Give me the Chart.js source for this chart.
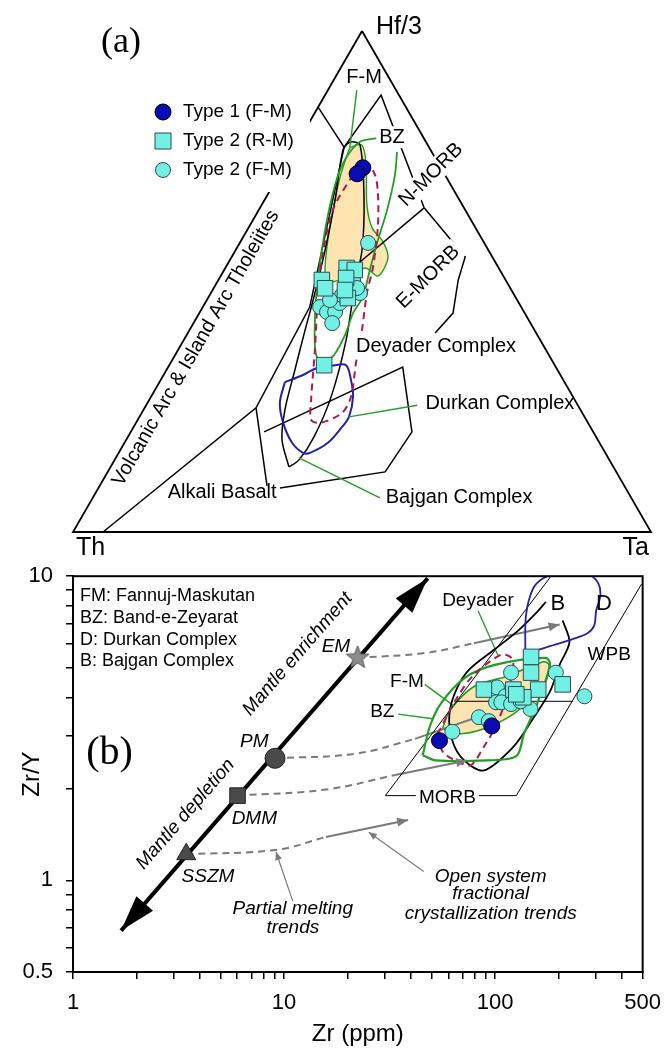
<!DOCTYPE html>
<html>
<head>
<meta charset="utf-8">
<script src="https://cdn.jsdelivr.net/npm/chart.js@4.4.1/dist/chart.umd.min.js"></script>
<style>
  body { margin: 0; background: #fff; }
  #wrap { position: relative; width: 672px; height: 1049px; }
  canvas { position: absolute; left: 0; }
  #chartA { top: 0; }
  #chartB { top: 550px; }
</style>
</head>
<body>
<div id="wrap">
  <canvas id="chartA" width="672" height="575"></canvas>
  <canvas id="chartB" width="672" height="499"></canvas>
</div>
<script>
// (a) ternary values in percent: [Hf/3, Th, Ta]
const triangleA = [[100, 0, 0], [0, 100, 0], [0, 0, 100], [100, 0, 0]];
const type1A = [[72.7, 13.5, 13.8], [71.5, 15.1, 13.4]];
const type2RMA = [[50.3, 31.8, 17.9], [48.7, 32.1, 19.3], [52.7, 26.3, 21.0], [52.3, 25.1, 22.6],
  [50.7, 27.4, 21.9], [46.7, 29.1, 24.2], [48.3, 28.8, 22.9], [33.3, 39.9, 26.8]];
const type2FMA = [[57.7, 20.1, 22.2], [50.3, 26.4, 23.3], [47.7, 26.5, 25.8], [44.9, 34.8, 20.3],
  [43.9, 34.1, 22.0], [43.9, 32.7, 23.4], [41.7, 34.3, 24.0], [45.7, 31.0, 23.3], [48.7, 26.5, 24.8],
  [47.3, 29.8, 22.9], [46.3, 32.4, 21.3]];

const woodArcLine = [[0, 94.8, 5.2], [24.8, 56.0, 19.3], [44.9, 36.6, 18.5], [76.8, 14.7, 8.5]];
const woodNmorbLine = [[84.8, 15.2, 0], [76.8, 14.7, 8.5], [87.2, 3.1, 9.7], [64.7, 6.9, 28.4]];
const woodEmorbLine = [[64.7, 6.9, 28.4], [54.9, 4.7, 40.4], [50.3, 8.2, 41.5], [43.7, 12.4, 43.9], [39.7, 17.5, 42.8]];
const woodEmorbLink = [[64.7, 6.9, 28.4], [53.9, 23.4, 22.7]];
const woodAlkaliLeft = [[24.8, 56.0, 19.3], [9.2, 61.9, 29.0]];
const woodAlkaliLine = [[20.0, 57.0, 23.1], [32.9, 26.5, 40.6], [20.0, 31.4, 48.7], [12.0, 40.0, 48.0], [8.8, 59.8, 31.4]];

const fmFieldA = [[76.8, 13.7, 9.5], [70.9, 18.4, 10.8], [60.9, 25.1, 14.0], [52.9, 30.0, 17.2], [49.9, 31.1, 19.0],
  [50.7, 27.6, 21.7], [52.7, 23.1, 24.2], [51.1, 21.7, 27.2], [54.7, 18.2, 27.2], [57.9, 17.4, 24.7],
  [60.7, 17.9, 21.4], [65.3, 16.5, 18.2], [73.3, 12.7, 14.1], [77.2, 11.4, 11.4], [76.8, 13.7, 9.5]];
const bzFieldA = [[75.8, 6.0, 18.1], [71.3, 8.7, 20.1], [64.3, 13.5, 22.2], [57.7, 18.6, 23.8], [52.3, 22.5, 25.2],
  [46.9, 26.4, 26.7], [43.7, 29.7, 26.6], [39.3, 33.3, 27.4], [34.7, 38.0, 27.3], [34.9, 40.3, 24.7],
  [42.3, 37.0, 20.7], [50.3, 32.5, 17.2], [60.3, 26.3, 13.5], [69.3, 20.0, 10.7], [74.3, 15.8, 9.9],
  [77.8, 11.4, 10.7], [78.6, 7.9, 13.5]];
const deyaderFieldA = [[73.3, 13.7, 13.0], [71.3, 15.9, 12.8], [64.3, 22.9, 12.8], [54.3, 29.8, 15.9],
  [46.9, 34.2, 18.9], [36.3, 40.0, 23.7], [26.3, 45.6, 28.0], [22.4, 47.6, 30.0], [21.8, 46.4, 31.9],
  [23.8, 41.6, 34.7], [27.0, 38.4, 34.6], [33.7, 34.2, 32.1], [40.3, 29.8, 29.8], [47.7, 25.3, 27.0],
  [52.9, 21.7, 25.5], [60.9, 16.8, 22.3], [67.7, 13.4, 18.9], [71.3, 12.1, 16.6], [73.3, 12.3, 14.4],
  [73.3, 13.7, 13.0]];
const durkanFieldA = [[29.9, 48.4, 21.7], [31.3, 44.5, 24.1], [32.7, 41.4, 25.8], [33.3, 38.0, 28.7],
  [33.3, 36.1, 30.6], [30.3, 36.7, 32.9], [27.0, 38.1, 35.0], [23.0, 40.8, 36.3], [21.0, 43.0, 36.1],
  [17.8, 47.0, 35.2], [15.8, 51.1, 33.1], [15.8, 52.3, 31.9], [17.8, 53.2, 29.0], [21.8, 52.8, 25.5],
  [25.7, 51.3, 22.9], [29.9, 48.4, 21.7]];
const bajganFieldA = [[13.0, 56.2, 30.9], [18.4, 54.7, 27.0], [24.4, 51.2, 24.5], [32.3, 45.4, 22.2],
  [40.3, 39.7, 20.0], [46.3, 35.3, 18.4], [56.3, 28.3, 15.5], [66.3, 21.5, 12.2], [76.2, 15.2, 8.6],
  [77.8, 13.2, 9.0], [77.2, 11.7, 11.0], [66.3, 16.5, 17.2], [56.3, 21.9, 21.9], [49.3, 26.6, 24.1],
  [38.3, 33.6, 28.1], [27.0, 41.9, 31.2], [19.0, 48.8, 32.2], [14.4, 53.7, 31.9], [13.0, 56.2, 30.9]];
const fmLeaderA = [[88.2, 6.8, 5.0], [76.8, 13.7, 9.5]];
const durkanLeaderA = [[25.3, 27.8, 46.9], [23.0, 40.8, 36.3]];
const bajganLeaderA = [[6.8, 43.5, 49.7], [14.8, 53.5, 31.7]];

const labelsA = [
  {t: 'F-M', p: [90.6, 4.3, 5.0]},
  {t: 'BZ', p: [78.8, 5.4, 15.8], bg: true},
  {t: 'N-MORB', p: [71.3, 2.4, 26.3], rot: -45, bg: true},
  {t: 'E-MORB', p: [50.9, 13.1, 36.0], rot: -45, bg: true},
  {t: 'Deyader Complex', p: [36.9, 18.7, 44.3], bg: true},
  {t: 'Durkan Complex', p: [25.7, 13.3, 61.0]},
  {t: 'Bajgan Complex', p: [6.8, 29.8, 63.4]},
  {t: 'Alkali Basalt', p: [7.8, 70.3, 21.9]},
  {t: 'Volcanic Arc & Island Arc Tholeiites', p: [36.7, 60.4, 2.9], rot: 'edge'}
];

// (b) Zr (ppm) and Zr/Y
const type1B = [[54.5, 2.88], [96.4, 3.22]];
const type2RMB = [[148, 5.43], [148, 4.82], [88.5, 4.24], [122, 4.24], [160, 4.24], [209, 4.41], [136, 4.00], [126, 4.09]];
const type2FMB = [[119, 4.82], [194, 4.82], [102, 4.31], [112, 4.03], [101, 3.85], [107, 3.85], [119, 3.80],
  [147, 3.66], [83.8, 3.44], [93.3, 3.34], [62.7, 3.08], [265, 4.03], [132, 3.88]];

const mantleNames = ['EM', 'PM', 'DMM', 'SSZM'];
const mantleZr = [22.3, 9.06, 6.02, 3.44];
const mantleZrY = [5.39, 2.52, 1.90, 1.22];
const mantleArrow = [[1.69, 0.684], [47.9, 9.84]];
const meltTrends = [
  [[22.3, 5.39], [46.4, 5.59], [79.4, 6.02]],
  [[9.06, 2.52], [21.9, 2.61], [41.7, 2.92]],
  [[6.02, 1.90], [15.8, 1.99], [33.6, 2.22]],
  [[3.44, 1.22], [9.16, 1.26], [15.8, 1.39]]];
const fcTrends = [
  [[79.4, 6.02], [202, 6.94]],
  [[41.7, 2.92], [82.1, 3.44]],
  [[33.6, 2.22], [73.7, 2.48]],
  [[15.8, 1.39], [38.7, 1.58]]];
const fcHeads = [true, false, true, true];
const meltPointer = [[11.0, 0.855], [9.16, 1.24]];
const fcPointer = [[45.9, 1.07], [25.2, 1.44]];

const morbBase = [[30.2, 1.90], [126, 1.90]];
const morbLeft = [[30.2, 1.90], [184, 10.0]];
const morbRight = [[126, 1.90], [494, 9.42]];
const morbTop = [[65.5, 3.88], [233, 3.88]];

const fmFieldB = [[56.3, 3.15], [60.7, 3.60], [79.4, 4.34], [113, 4.68], [169, 5.23], [180, 5.11], [174, 4.51],
  [151, 4.03], [122, 3.52], [88.5, 3.15], [66.2, 3.03], [56.3, 3.15]];
const bzFieldB = [[45.4, 2.58], [49.0, 3.20], [55.1, 3.80], [72.1, 4.64], [99.6, 5.11], [174, 5.39], [182, 5.11],
  [158, 3.80], [137, 3.03], [126, 2.56], [91.4, 2.48], [52.2, 2.48], [45.4, 2.58]];
const deyaderFieldB = [[53.4, 3.03], [66.2, 4.00], [79.4, 4.75], [106, 5.51], [118, 5.43], [122, 5.11], [113, 4.00],
  [102, 3.27], [88.5, 2.75], [76.9, 2.39], [69.1, 2.43], [57.5, 2.61], [53.4, 2.88], [53.4, 3.03]];
const durkanFieldB = [[139, 5.59], [140, 7.42], [151, 9.08], [169, 9.85], [194, 10.1], [279, 10.1], [308, 9.49],
  [315, 8.61], [301, 7.70], [295, 6.89], [274, 6.49], [233, 6.21], [188, 5.93], [160, 5.72], [147, 5.59]];
const bajganFieldB = [[174, 8.24], [160, 7.70], [129, 6.64], [98.5, 5.72], [75.3, 4.93], [65.5, 4.24], [60.7, 3.52],
  [62.7, 2.88], [71.3, 2.48], [88.5, 2.30], [122, 2.75], [151, 3.40], [182, 4.18], [202, 5.11], [225, 6.07], [209, 7.15]];
const deyaderLeaderB = [[83.0, 7.70], [103, 5.51]];
const fmLeaderB = [[46.4, 4.41], [64.1, 3.74]];
const bzLeaderB = [[34.7, 3.52], [50.6, 3.40]];

const xTicks = [1, 2, 3, 4, 5, 6, 7, 8, 9, 10, 20, 30, 40, 50, 60, 70, 80, 90, 100, 200, 300, 400, 500];
const xTickLabels = [1, 10, 100, 500];
const yTicks = [0.5, 0.6, 0.7, 0.8, 0.9, 1, 2, 3, 4, 5, 6, 7, 8, 9, 10];
const yTickLabels = [0.5, 1, 10];

const legendBText = ['FM: Fannuj-Maskutan', 'BZ: Band-e-Zeyarat', 'D: Durkan Complex', 'B: Bajgan Complex'];
const labelsB = [
  {t: '(b)', x: 1.49, y: 2.61, size: 40, serif: true},
  {t: 'EM', x: 17.6, y: 5.85, it: true},
  {t: 'PM', x: 7.23, y: 2.86, it: true},
  {t: 'DMM', x: 7.23, y: 1.59, it: true},
  {t: 'SSZM', x: 4.36, y: 1.03, it: true},
  {t: 'Partial melting', x: 11.0, y: 0.806, it: true},
  {t: 'trends', x: 11.0, y: 0.70, it: true},
  {t: 'Open system', x: 95.3, y: 1.03, it: true},
  {t: 'fractional', x: 95.3, y: 0.901, it: true},
  {t: 'crystallization trends', x: 95.3, y: 0.776, it: true},
  {t: 'Deyader', x: 83.0, y: 8.30},
  {t: 'F-M', x: 38.2, y: 4.51},
  {t: 'BZ', x: 29.2, y: 3.58},
  {t: 'MORB', x: 59.4, y: 1.87, bg: true},
  {t: 'WPB', x: 347, y: 5.51},
  {t: 'B', x: 198, y: 8.12, size: 22},
  {t: 'D', x: 328, y: 8.12, size: 22}
];
const mantleTextPos = [[11.6, 5.55], [3.41, 1.65]];
const mantleText = ['Mantle enrichment', 'Mantle depletion'];

const BLUE = '#0b0bb5', CYAN = '#72f0e4', EDGE = '#2d4d4d', ORANGE = '#fde4b0', GREEN = '#229e22',
  RED = '#b3174f', NAVY = '#2222a6', GREY = '#7a7a7a', DARK = '#4a4a4a';
const SANS = "'Liberation Sans', Arial, sans-serif";
const SERIF = "'Liberation Serif', 'Times New Roman', serif";
Chart.defaults.font.family = SANS;
Chart.defaults.color = '#000';

const SQ3 = Math.sqrt(3) / 2;
const tern = pts => pts.map(([hf, th, ta]) => {
  const s = hf + th + ta;
  return {x: (ta + hf / 2) / s, y: hf / s * SQ3};
});
const xy = pts => pts.map(([x, y]) => ({x, y}));

function line(data, color, width, more) {
  return Object.assign({data, showLine: true, borderColor: color, borderWidth: width, pointRadius: 0,
    pointHoverRadius: 0, fill: false, tension: 0, order: 10}, more);
}
function points(data, style, radius, bg, border, order) {
  return {data, showLine: false, pointStyle: style, pointRadius: radius, pointHoverRadius: radius,
    backgroundColor: bg, borderColor: border, borderWidth: 1, order};
}

function text(ctx, str, x, y, size, opt = {}) {
  ctx.save();
  ctx.translate(x, y);
  ctx.rotate(opt.rot || 0);
  ctx.font = (opt.italic ? 'italic ' : '') + size + 'px ' + (opt.family || SANS);
  ctx.textAlign = opt.align || 'center';
  ctx.textBaseline = 'middle';
  if (opt.bg) {
    const w = ctx.measureText(str).width;
    ctx.fillStyle = '#fff';
    ctx.fillRect(-w / 2 - 3, -size * 0.55, w + 6, size * 1.1);
  }
  ctx.fillStyle = '#000';
  ctx.fillText(str, 0, 0);
  ctx.restore();
}

function head(ctx, x1, y1, x2, y2, len, half, color) {
  const a = Math.atan2(y2 - y1, x2 - x1);
  const c = Math.cos(a), s = Math.sin(a);
  ctx.save();
  ctx.fillStyle = color;
  ctx.beginPath();
  ctx.moveTo(x2, y2);
  ctx.lineTo(x2 - len * c + half * s, y2 - len * s - half * c);
  ctx.lineTo(x2 - len * c - half * s, y2 - len * s + half * c);
  ctx.closePath();
  ctx.fill();
  ctx.restore();
}

function starImage(size, fill, stroke) {
  const c = document.createElement('canvas');
  c.width = c.height = size;
  const g = c.getContext('2d');
  const r = size / 2 - 1;
  g.beginPath();
  for (let i = 0; i < 10; i++) {
    const a = -Math.PI / 2 + i * Math.PI / 5;
    const rr = i % 2 ? r * 0.42 : r;
    g.lineTo(size / 2 + rr * Math.cos(a), size / 2 + rr * Math.sin(a));
  }
  g.closePath();
  g.fillStyle = fill;
  g.fill();
  g.strokeStyle = stroke;
  g.lineWidth = 1;
  g.stroke();
  return c;
}

// ---------- (a) ----------
const legendA = [
  {name: 'Type 1 (F-M)', style: 'circle', r: 8, bg: BLUE, bd: '#000'},
  {name: 'Type 2 (R-M)', style: 'rect', r: 8, bg: CYAN, bd: EDGE},
  {name: 'Type 2 (F-M)', style: 'circle', r: 7.5, bg: CYAN, bd: EDGE}
];

const annotateA = {
  id: 'annotateA',
  afterDatasetsDraw(chart) {
    const {ctx, chartArea: a, scales: {x, y}} = chart;
    const at = p => { const q = tern([p])[0]; return [x.getPixelForValue(q.x), y.getPixelForValue(q.y)]; };
    const [hx, hy] = at([100, 0, 0]);
    const [thx, thy] = at([0, 100, 0]);
    const [tax, tay] = at([0, 0, 100]);
    const edge = Math.atan2(hy - thy, hx - thx);
    labelsA.forEach(l => {
      const [lx, ly] = at(l.p);
      const rot = l.rot === 'edge' ? edge : (l.rot || 0) * Math.PI / 180;
      text(ctx, l.t, lx, ly, 20, {rot, bg: l.bg});
    });
    text(ctx, 'Hf/3', hx + 14, hy - 4, 25, {align: 'left'});
    text(ctx, 'Th', thx + 3, thy + 16, 25, {align: 'left'});
    text(ctx, 'Ta', tax - 2, tay + 16, 25, {align: 'right'});
    text(ctx, '(a)', a.left + 48, a.top + 12, 36, {family: SERIF});

    ctx.save();
    ctx.fillStyle = '#fff';
    ctx.fillRect(a.left + 72, a.top + 67, 165, 94);
    legendA.forEach((e, i) => {
      const mx = a.left + 90, my = a.top + 81 + i * 29;
      ctx.fillStyle = e.bg;
      ctx.strokeStyle = e.bd;
      ctx.lineWidth = 1;
      ctx.beginPath();
      if (e.style === 'circle') ctx.arc(mx, my, e.r, 0, Math.PI * 2);
      else ctx.rect(mx - e.r, my - e.r, e.r * 2, e.r * 2);
      ctx.fill();
      ctx.stroke();
      text(ctx, e.name, a.left + 110, my, 19, {align: 'left'});
    });
    ctx.restore();
  }
};

const blackA = [woodArcLine, woodNmorbLine, woodEmorbLine, woodEmorbLink, woodAlkaliLeft, woodAlkaliLine]
  .map(d => line(tern(d), '#000', 1.5, {order: 8, clip: false}));

new Chart(document.getElementById('chartA'), {
  type: 'scatter',
  data: {
    datasets: [
      points(tern(type1A), 'circle', 8, BLUE, '#000', 0),
      points(tern(type2RMA), 'rect', 11, CYAN, EDGE, 1),
      points(tern(type2FMA), 'circle', 7.5, CYAN, EDGE, 2),
      line(tern(triangleA), '#000', 1.8, {order: 8, clip: false}),
      ...blackA,
      line(tern(fmFieldA), GREEN, 1.4, {fill: 'shape', backgroundColor: ORANGE, tension: 0.3, order: 12}),
      line(tern(bzFieldA), GREEN, 1.8, {tension: 0.3, order: 5}),
      line(tern(deyaderFieldA), RED, 2, {borderDash: [7, 5], tension: 0.3, order: 4}),
      line(tern(durkanFieldA), NAVY, 2, {tension: 0.35, order: 6}),
      line(tern(bajganFieldA), '#000', 1.5, {tension: 0.3, order: 7}),
      line(tern(fmLeaderA), GREEN, 1.4, {order: 5}),
      line(tern(durkanLeaderA), GREEN, 1.4, {order: 5}),
      line(tern(bajganLeaderA), GREEN, 1.4, {order: 5})
    ]
  },
  options: {
    responsive: false,
    animation: false,
    events: [],
    layout: {padding: {left: 73, right: 21, top: 31, bottom: 43}},
    scales: {
      x: {type: 'linear', min: 0, max: 1, display: false},
      y: {type: 'linear', min: 0, max: SQ3, display: false}
    },
    plugins: {legend: {display: false}, tooltip: {enabled: false}}
  },
  plugins: [annotateA]
});

// ---------- (b) ----------
const annotateB = {
  id: 'annotateB',
  afterDatasetsDraw(chart) {
    const {ctx, chartArea: a, scales: {x, y}} = chart;
    const at = (vx, vy) => [x.getPixelForValue(vx), y.getPixelForValue(vy)];
    chart.data.datasets.forEach((ds, i) => {
      if (!ds.head) return;
      const pts = chart.getDatasetMeta(i).data;
      const n = pts.length;
      head(ctx, pts[n - 2].x, pts[n - 2].y, pts[n - 1].x, pts[n - 1].y, ds.head[0], ds.head[1], ds.borderColor);
      if (ds.both) head(ctx, pts[1].x, pts[1].y, pts[0].x, pts[0].y, ds.head[0], ds.head[1], ds.borderColor);
    });
    const [ax1, ay1] = at(...mantleArrow[0]);
    const [ax2, ay2] = at(...mantleArrow[1]);
    const ang = Math.atan2(ay2 - ay1, ax2 - ax1);
    mantleText.forEach((t, i) => {
      const [tx, ty] = at(...mantleTextPos[i]);
      text(ctx, t, tx, ty, 19, {rot: ang, italic: true});
    });
    labelsB.forEach(l => {
      const [lx, ly] = at(l.x, l.y);
      text(ctx, l.t, lx, ly, l.size || 19, {italic: l.it, family: l.serif ? SERIF : SANS, bg: l.bg});
    });
    legendBText.forEach((t, i) => text(ctx, t, a.left + 7, a.top + 20 + i * 21.7, 18, {align: 'left'}));
  },
  afterDraw(chart) {
    const {ctx, chartArea: a} = chart;
    ctx.save();
    ctx.strokeStyle = '#000';
    ctx.lineWidth = 2;
    ctx.strokeRect(a.left, a.top, a.right - a.left, a.bottom - a.top);
    ctx.restore();
  }
};

const mantleStyles = [starImage(26, '#8c8c8c', '#555'), 'circle', 'rect', 'triangle'];
const mantleRadius = [13, 10, 11, 11];
const mantleSets = mantleNames.map((n, i) =>
  points([{x: mantleZr[i], y: mantleZrY[i]}], mantleStyles[i], mantleRadius[i], DARK, '#222', 0));

new Chart(document.getElementById('chartB'), {
  type: 'scatter',
  data: {
    datasets: [
      points(xy(type1B), 'circle', 8, BLUE, '#000', 0),
      points(xy(type2RMB), 'rect', 11, CYAN, EDGE, 1),
      points(xy(type2FMB), 'circle', 7.5, CYAN, EDGE, 2),
      ...mantleSets,
      line(xy(mantleArrow), '#000', 4, {order: 3, head: [36, 11], both: true}),
      line(xy(fmFieldB), GREEN, 1.6, {fill: 'shape', backgroundColor: ORANGE, tension: 0.3, order: 14}),
      line(xy(bzFieldB), GREEN, 2.2, {tension: 0.3, order: 6}),
      line(xy(deyaderFieldB), RED, 2, {borderDash: [7, 5], tension: 0.3, order: 5}),
      line(xy(durkanFieldB), NAVY, 1.8, {tension: 0.3, order: 7}),
      line(xy(bajganFieldB), '#000', 1.8, {tension: 0.3, order: 7}),
      ...[morbBase, morbLeft, morbRight, morbTop].map(d => line(xy(d), '#000', 1, {order: 9})),
      ...[deyaderLeaderB, fmLeaderB, bzLeaderB].map(d => line(xy(d), GREEN, 1.3, {order: 8})),
      ...meltTrends.map(d => line(xy(d), GREY, 2, {borderDash: [7, 5], tension: 0.4, order: 11})),
      ...fcTrends.map((d, i) => line(xy(d), GREY, 2, {order: 11, head: fcHeads[i] ? [11, 4.5] : null})),
      ...[meltPointer, fcPointer].map(d => line(xy(d), GREY, 1.2, {order: 11, head: [8, 3.5]}))
    ]
  },
  options: {
    responsive: false,
    animation: false,
    events: [],
    layout: {padding: {top: 20, right: 21, left: 0, bottom: 0}},
    scales: {
      x: {
        type: 'logarithmic', min: 1, max: 500, position: 'bottom',
        afterBuildTicks: s => { s.ticks = xTicks.map(v => ({value: v})); },
        afterFit: s => { s.height = 77; },
        ticks: {autoSkip: false, maxRotation: 0, padding: 11, color: '#000', font: {size: 22},
          callback: v => xTickLabels.includes(v) ? String(v) : ''},
        grid: {drawOnChartArea: false, tickLength: 7, color: '#000', lineWidth: 1.5},
        border: {color: '#000', width: 2},
        title: {display: true, text: 'Zr (ppm)', color: '#000', font: {size: 24}, padding: {top: 0, bottom: 0}}
      },
      y: {
        type: 'logarithmic', min: 0.5, max: 10, position: 'left',
        afterBuildTicks: s => { s.ticks = yTicks.map(v => ({value: v})); },
        afterFit: s => { s.width = 73; },
        ticks: {autoSkip: false, padding: 13, color: '#000', font: {size: 22},
          callback: v => yTickLabels.includes(v) ? String(v) : ''},
        grid: {drawOnChartArea: false, tickLength: 7, color: '#000', lineWidth: 1.5},
        border: {color: '#000', width: 2},
        title: {display: true, text: 'Zr/Y', color: '#000', font: {size: 24}, padding: {top: 18, bottom: 0}}
      }
    },
    plugins: {legend: {display: false}, tooltip: {enabled: false}}
  },
  plugins: [annotateB]
});
</script>
</body>
</html>
